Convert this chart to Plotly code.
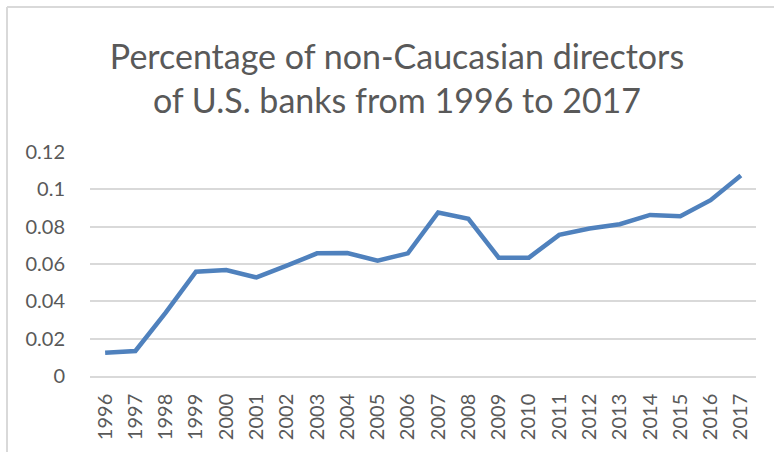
import plotly.graph_objects as go

years = [str(y) for y in range(1996, 2018)]
values = [0.0124, 0.0134, 0.034, 0.0559, 0.0568, 0.0528, 0.0591, 0.0657, 0.0659,
          0.0618, 0.0657, 0.0876, 0.0842, 0.0634, 0.0634, 0.0756, 0.0790, 0.0813,
          0.0863, 0.0856, 0.0942, 0.1074]
y_ticks = [0, 0.02, 0.04, 0.06, 0.08, 0.1, 0.12]
y_labels = ["0", "0.02", "0.04", "0.06", "0.08", "0.1", "0.12"]
title_text = "Percentage of non-Caucasian directors<br>of U.S. banks from 1996 to 2017"

W, H = 774, 452
grey_text = "#595959"
grid = "#d9d9d9"

fig = go.Figure()
fig.add_trace(go.Scatter(
    x=years, y=values, mode="lines",
    line=dict(color="#4f81bd", width=4.5, shape="linear"),
    hoverinfo="skip", showlegend=False,
))

fig.update_layout(
    width=W, height=H,
    margin=dict(l=90, r=18, t=152, b=76),
    paper_bgcolor="white", plot_bgcolor="white",
    font=dict(family="Lato, Carlito, sans-serif", color=grey_text),
    title=dict(
        text=title_text,
        x=397 / W, xanchor="center", xref="container",
        y=1 - 69 / H, yanchor="middle", yref="container",
        font=dict(size=34, color=grey_text, family="Lato, sans-serif"),
    ),
    xaxis=dict(
        type="category", range=[-0.5, len(years) - 0.5],
        tickangle=-90, tickfont=dict(size=20, color=grey_text),
        showgrid=False, showline=True, linecolor=grid, linewidth=1.5,
        ticks="", ticklabelstandoff=8,
    ),
    yaxis=dict(
        range=[0, 0.12], tickvals=y_ticks, ticktext=y_labels,
        tickfont=dict(size=20, color=grey_text),
        showgrid=True, gridcolor=grid, gridwidth=1.5,
        zeroline=False, showline=False, ticks="", ticklabelstandoff=24,
    ),
    shapes=[
        dict(type="line", xref="paper", yref="paper",
             x0=-83 / 666, x1=1.2, y0=1 + 145 / 224, y1=1 + 145 / 224,
             line=dict(color=grid, width=2)),
        dict(type="line", xref="paper", yref="paper",
             x0=-83 / 666, x1=-83 / 666, y0=1 + 145 / 224, y1=-1,
             line=dict(color=grid, width=2)),
    ],
)

fig.write_html("out.html")
